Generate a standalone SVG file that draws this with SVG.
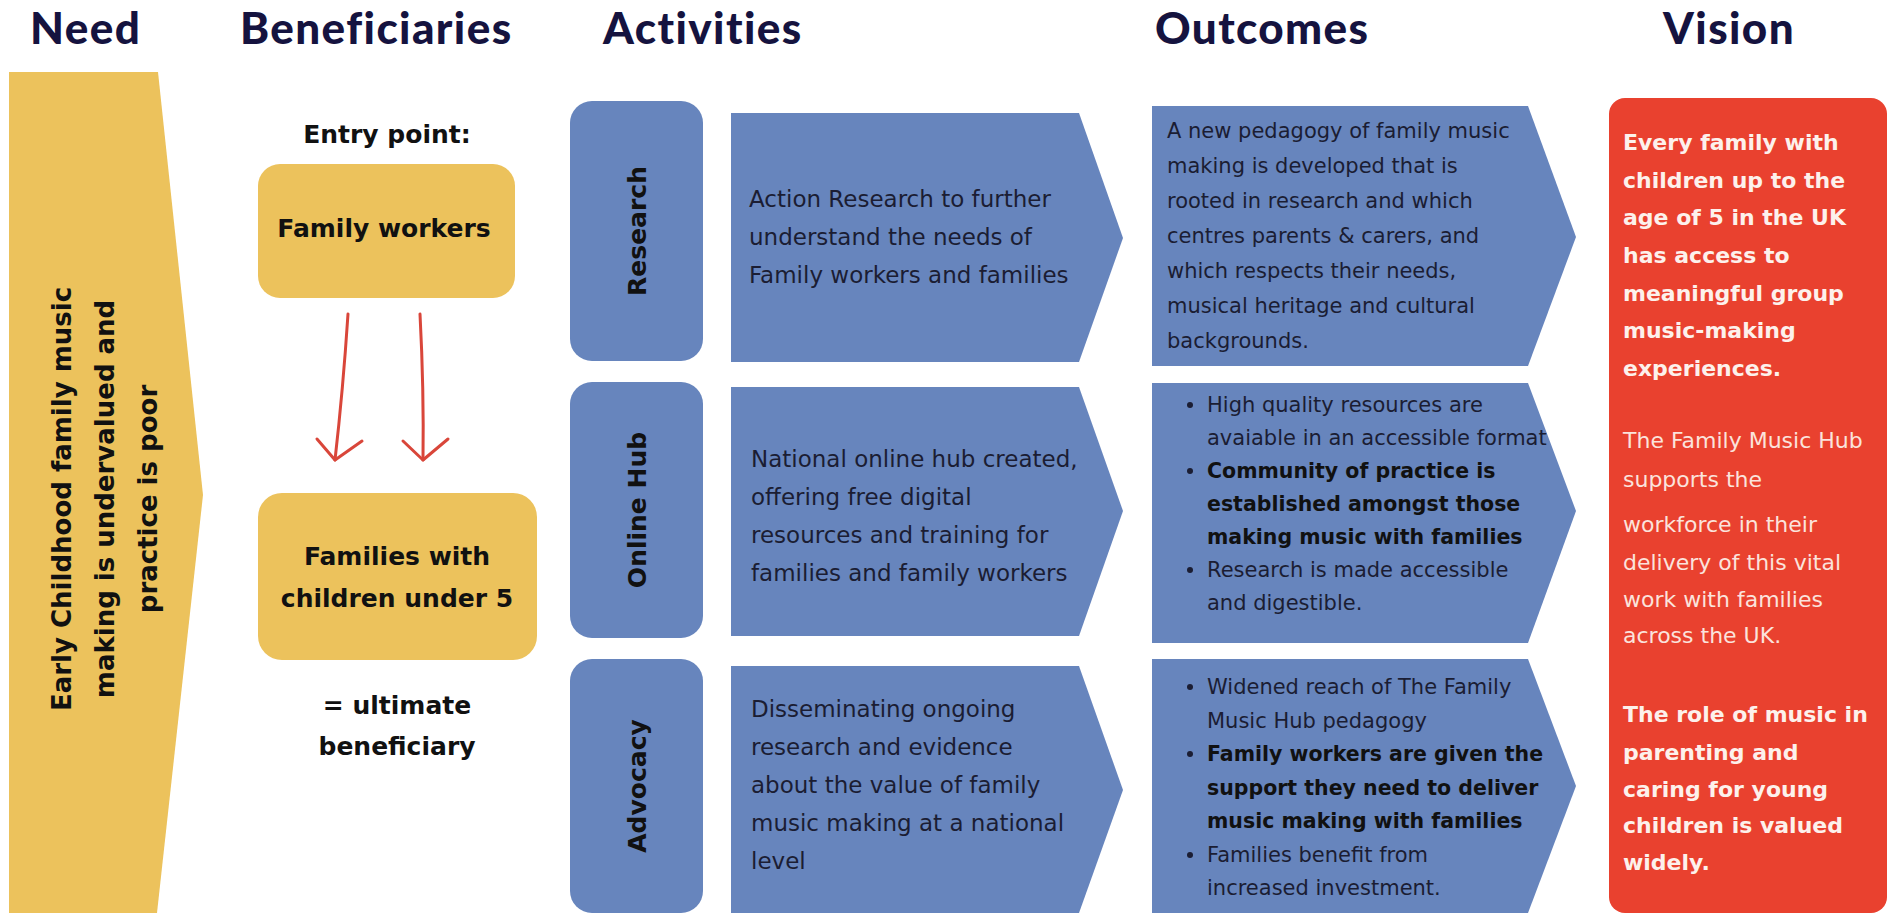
<svg xmlns="http://www.w3.org/2000/svg" width="1892" height="917" viewBox="0 0 1892 917">
  <style>
    .title { font-family: Lato, "Liberation Sans", sans-serif; font-weight: 900; font-size: 44px; letter-spacing: 1.4px; fill: #15133f; }
    .yellow { fill: #ecc25c; }
    .blue { fill: #6785bd; }
    .red { fill: #e9412f; }
    .bold { font-family: "DejaVu Sans", Verdana, sans-serif; font-weight: 700; fill: #111111; }
    .body { font-family: "DejaVu Sans", Verdana, sans-serif; font-weight: 400; fill: #1b1d33; }
    .label { font-family: "DejaVu Sans", Verdana, sans-serif; font-weight: 700; font-size: 25px; fill: #111111; }
    .vb { font-family: "DejaVu Sans", Verdana, sans-serif; font-weight: 700; font-size: 22px; fill: #fdf1ec; }
    .vr { font-family: "DejaVu Sans", Verdana, sans-serif; font-weight: 400; font-size: 22px; fill: #fbe3dc; }
    .arrow { fill: none; stroke: #d9463a; stroke-width: 3; stroke-linecap: round; stroke-linejoin: round; }
  </style>

  <rect width="1892" height="917" fill="#ffffff"/>

  <!-- column headings -->
  <g id="headings">
    <text class="title" x="30" y="44">Need</text>
    <text class="title" x="240" y="44">Beneficiaries</text>
    <text class="title" x="603" y="44">Activities</text>
    <text class="title" x="1155" y="44">Outcomes</text>
    <text class="title" x="1663" y="44">Vision</text>
  </g>

  <!-- need -->
  <g id="need">
    <path class="yellow" d="M9,72 H158 L203,495 L157,913 H9 Z"/>
    <g class="bold" font-size="26" text-anchor="middle">
      <text transform="translate(71,499) rotate(-90)">Early Childhood family music</text>
      <text transform="translate(114,499) rotate(-90)">making is undervalued and</text>
      <text transform="translate(157,499) rotate(-90)">practice is poor</text>
    </g>
  </g>

  <!-- beneficiaries -->
  <g id="entry-label">
    <text class="bold" font-size="25" x="387" y="143" text-anchor="middle">Entry point:</text>
  </g>
  <g id="family-workers">
    <rect class="yellow" x="258" y="164" width="257" height="134" rx="22"/>
    <text class="bold" font-size="25" x="384" y="237" text-anchor="middle">Family workers</text>
  </g>
  <g id="families">
    <rect class="yellow" x="258" y="493" width="279" height="167" rx="24"/>
    <text class="bold" font-size="25" x="397" y="565" text-anchor="middle">Families with</text>
    <text class="bold" font-size="25" x="397" y="607" text-anchor="middle">children under 5</text>
  </g>
  <g id="ultimate-label">
    <text class="bold" font-size="25" x="397" y="714" text-anchor="middle">= ultimate</text>
    <text class="bold" font-size="25" x="397" y="755" text-anchor="middle">beneficiary</text>
  </g>

  <!-- hand-drawn arrows between the beneficiary boxes -->
  <g id="connectors">
    <path class="arrow" d="M348,314 Q343,390 335,460"/>
    <path class="arrow" d="M317,439 L335,460 L362,441"/>
    <path class="arrow" d="M420,314 Q424,390 423,460"/>
    <path class="arrow" d="M403,441 L423,460 L448,439"/>
  </g>

  <!-- activities -->
  <g id="research">
    <rect class="blue" x="570" y="101" width="133" height="260" rx="22"/>
    <text class="label" transform="translate(646,231) rotate(-90)" text-anchor="middle">Research</text>
  </g>
  <g id="research-activity">
    <path class="blue" d="M731,113 H1079 L1123,238 L1079,362 H731 Z"/>
    <g class="body" font-size="23">
      <text x="749" y="207">Action Research to further</text>
      <text x="749" y="245">understand the needs of</text>
      <text x="749" y="283">Family workers and families</text>
    </g>
  </g>

  <g id="online-hub">
    <rect class="blue" x="570" y="382" width="133" height="256" rx="22"/>
    <text class="label" transform="translate(646,510) rotate(-90)" text-anchor="middle">Online Hub</text>
  </g>
  <g id="online-hub-activity">
    <path class="blue" d="M731,387 H1079 L1123,511 L1079,636 H731 Z"/>
    <g class="body" font-size="23">
      <text x="751" y="467">National online hub created,</text>
      <text x="751" y="505">offering free digital</text>
      <text x="751" y="543">resources and training for</text>
      <text x="751" y="581">families and family workers</text>
    </g>
  </g>

  <g id="advocacy">
    <rect class="blue" x="570" y="659" width="133" height="254" rx="22"/>
    <text class="label" transform="translate(646,786) rotate(-90)" text-anchor="middle">Advocacy</text>
  </g>
  <g id="advocacy-activity">
    <path class="blue" d="M731,666 H1079 L1123,790 L1079,913 H731 Z"/>
    <g class="body" font-size="23">
      <text x="751" y="717">Disseminating ongoing</text>
      <text x="751" y="755">research and evidence</text>
      <text x="751" y="793">about the value of family</text>
      <text x="751" y="831">music making at a national</text>
      <text x="751" y="869">level</text>
    </g>
  </g>

  <!-- outcomes -->
  <g id="research-outcome">
    <path class="blue" d="M1152,106 H1528 L1576,237 L1528,366 H1152 Z"/>
    <g class="body" font-size="21">
      <text x="1167" y="138">A new pedagogy of family music</text>
      <text x="1167" y="173">making is developed that is</text>
      <text x="1167" y="208">rooted in research and which</text>
      <text x="1167" y="243">centres parents &amp; carers, and</text>
      <text x="1167" y="278">which respects their needs,</text>
      <text x="1167" y="313">musical heritage and cultural</text>
      <text x="1167" y="348">backgrounds.</text>
    </g>
  </g>

  <g id="online-hub-outcome">
    <path class="blue" d="M1152,383 H1528 L1576,511 L1528,643 H1152 Z"/>
    <g fill="#1b1d33">
      <circle cx="1190" cy="405" r="3"/>
      <circle cx="1190" cy="471" r="3"/>
      <circle cx="1190" cy="570" r="3"/>
    </g>
    <g font-size="21">
      <text class="body" x="1207" y="412">High quality resources are</text>
      <text class="body" x="1207" y="445">avaiable in an accessible format</text>
      <text class="bold" x="1207" y="478" font-size="20.5">Community of practice is</text>
      <text class="bold" x="1207" y="511" font-size="20.5">established amongst those</text>
      <text class="bold" x="1207" y="544" font-size="20.5">making music with families</text>
      <text class="body" x="1207" y="577">Research is made accessible</text>
      <text class="body" x="1207" y="610">and digestible.</text>
    </g>
  </g>

  <g id="advocacy-outcome">
    <path class="blue" d="M1152,659 H1528 L1576,786 L1528,913 H1152 Z"/>
    <g fill="#1b1d33">
      <circle cx="1190" cy="687" r="3"/>
      <circle cx="1190" cy="754" r="3"/>
      <circle cx="1190" cy="855" r="3"/>
    </g>
    <g font-size="21">
      <text class="body" x="1207" y="694">Widened reach of The Family</text>
      <text class="body" x="1207" y="728">Music Hub pedagogy</text>
      <text class="bold" x="1207" y="761" font-size="20.5">Family workers are given the</text>
      <text class="bold" x="1207" y="795" font-size="20.5">support they need to deliver</text>
      <text class="bold" x="1207" y="828" font-size="20.5">music making with families</text>
      <text class="body" x="1207" y="862">Families benefit from</text>
      <text class="body" x="1207" y="895">increased investment.</text>
    </g>
  </g>

  <!-- vision -->
  <g id="vision">
    <rect class="red" x="1609" y="98" width="278" height="815" rx="16"/>
    <text class="vb" x="1623" y="150">Every family with</text>
    <text class="vb" x="1623" y="188">children up to the</text>
    <text class="vb" x="1623" y="225">age of 5 in the UK</text>
    <text class="vb" x="1623" y="263">has access to</text>
    <text class="vb" x="1623" y="301">meaningful group</text>
    <text class="vb" x="1623" y="338">music-making</text>
    <text class="vb" x="1623" y="376">experiences.</text>
    <text class="vr" x="1623" y="448">The Family Music Hub</text>
    <text class="vr" x="1623" y="487">supports the</text>
    <text class="vr" x="1623" y="532">workforce in their</text>
    <text class="vr" x="1623" y="570">delivery of this vital</text>
    <text class="vr" x="1623" y="607">work with families</text>
    <text class="vr" x="1623" y="643">across the UK.</text>
    <text class="vb" x="1623" y="722">The role of music in</text>
    <text class="vb" x="1623" y="760">parenting and</text>
    <text class="vb" x="1623" y="797">caring for young</text>
    <text class="vb" x="1623" y="833">children is valued</text>
    <text class="vb" x="1623" y="870">widely.</text>
  </g>
</svg>
